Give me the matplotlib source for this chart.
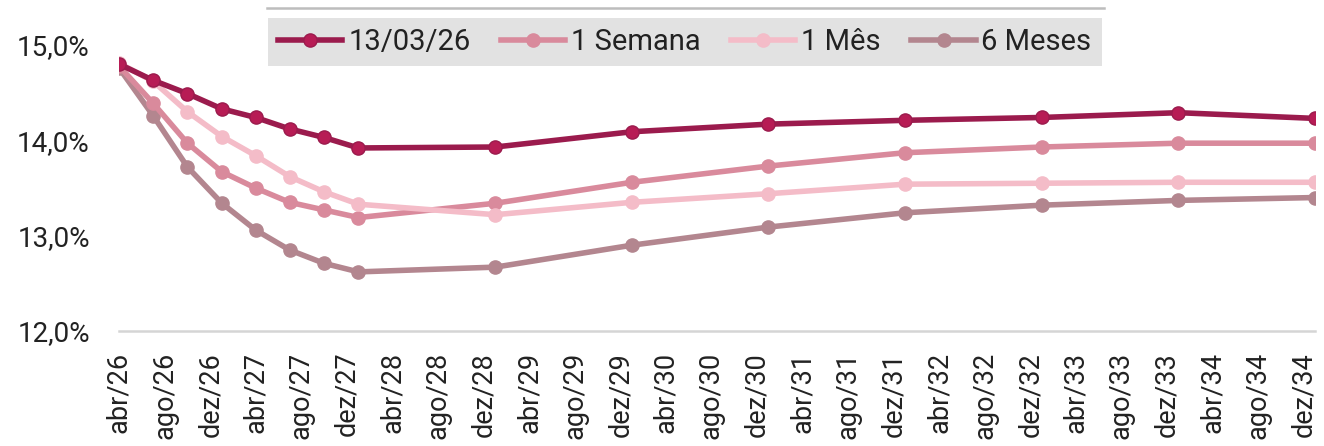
import datetime as dt
import matplotlib
matplotlib.use('Agg')
import matplotlib.pyplot as plt
from matplotlib.lines import Line2D

plt.rcParams['font.family'] = ['Roboto', 'DejaVu Sans']

# vencimentos (datas dos pontos da curva)
vencimentos = ['2026-04-01', '2026-07-01', '2026-10-01', '2027-01-01', '2027-04-01',
               '2027-07-01', '2027-10-01', '2028-01-01', '2029-01-01', '2030-01-01',
               '2031-01-01', '2032-01-01', '2033-01-01', '2034-01-01', '2035-01-01']

curva_hoje = [14.80, 14.63, 14.49, 14.33, 14.24, 14.12, 14.03, 13.92,
              13.93, 14.09, 14.17, 14.21, 14.24, 14.29, 14.23]
curva_1sem = [14.78, 14.39, 13.97, 13.67, 13.50, 13.35, 13.27, 13.19,
              13.34, 13.56, 13.73, 13.87, 13.93, 13.97, 13.97]
curva_1mes = [14.81, 14.62, 14.30, 14.04, 13.84, 13.62, 13.46, 13.33,
              13.22, 13.35, 13.44, 13.54, 13.55, 13.56, 13.56]
curva_6mes = [14.76, 14.26, 13.72, 13.34, 13.06, 12.85, 12.71, 12.62,
              12.67, 12.90, 13.09, 13.24, 13.32, 13.37, 13.40]

nomes = ['13/03/26', '1 Semana', '1 Mês', '6 Meses']

# rótulos do eixo x (a cada 4 meses)
meses_rotulo = ['abr', 'ago', 'dez']
anos_rotulo = list(range(26, 35))
yticks = [12, 13, 14, 15]
ytick_labels = ['12,0%', '13,0%', '14,0%', '15,0%']

datas = [dt.datetime.strptime(d, '%Y-%m-%d') for d in vencimentos]

fig = plt.figure(figsize=(13.24, 4.46), dpi=100)
ax = fig.add_axes([119 / 1324, 1 - 331 / 446, (1315 - 119) / 1324, (331 - 45) / 446])

estilos = [
    (curva_6mes, '#B3868F', '#B3868F', 2),
    (curva_1sem, '#D98A9C', '#D98A9C', 3),
    (curva_1mes, '#F4BCC8', '#F4BCC8', 4),
    (curva_hoje, '#9B1B4D', '#B71C55', 5),
]
handles = {}
for (serie, cor, cor_marc, z), nome in zip(estilos, ['6 Meses', '1 Semana', '1 Mês', '13/03/26']):
    h, = ax.plot(datas, serie, color=cor, lw=4, marker='o', markersize=9.5,
                 markerfacecolor=cor_marc, markeredgecolor=cor, markeredgewidth=1,
                 zorder=z, label=nome)
    handles[nome] = h

ax.set_xlim(dt.datetime(2026, 4, 1), dt.datetime(2035, 1, 1))
ax.set_ylim(12, 15)

ticks = []
rotulos = []
for a in anos_rotulo:
    for i, m in enumerate([4, 8, 12]):
        ticks.append(dt.datetime(2000 + a, m, 1))
        rotulos.append(f'{meses_rotulo[i]}/{a}')
ax.set_xticks(ticks)
ax.set_xticklabels(rotulos, rotation=90, fontsize=19.5, color='#222222')
ax.set_yticks(yticks)
ax.set_yticklabels(ytick_labels, fontsize=20, color='#222222')
ax.tick_params(axis='both', length=0)
ax.tick_params(axis='y', pad=21)
ax.tick_params(axis='x', pad=15)

for s in ['top', 'right', 'left']:
    ax.spines[s].set_visible(False)
ax.spines['bottom'].set_color('#D5D5D5')
ax.spines['bottom'].set_linewidth(1.8)

leg = fig.legend([handles[n] for n in nomes], nomes, ncol=4, loc='upper left',
                 bbox_to_anchor=(268 / 1324, 1 - 18 / 446), fontsize=21,
                 frameon=True, fancybox=False, handlelength=2.2, handletextpad=0.2,
                 columnspacing=1.05, borderpad=0.35, borderaxespad=0)
leg.get_frame().set_facecolor('#E2E2E2')
leg.get_frame().set_edgecolor('none')
leg.get_frame().set_alpha(1)
for t in leg.get_texts():
    t.set_color('#222222')

fig.add_artist(Line2D([267 / 1324, 1104 / 1324], [1 - 8 / 446, 1 - 8 / 446],
                      color='#BDBDBD', lw=1.8))

fig.savefig('out.png', dpi=100)
